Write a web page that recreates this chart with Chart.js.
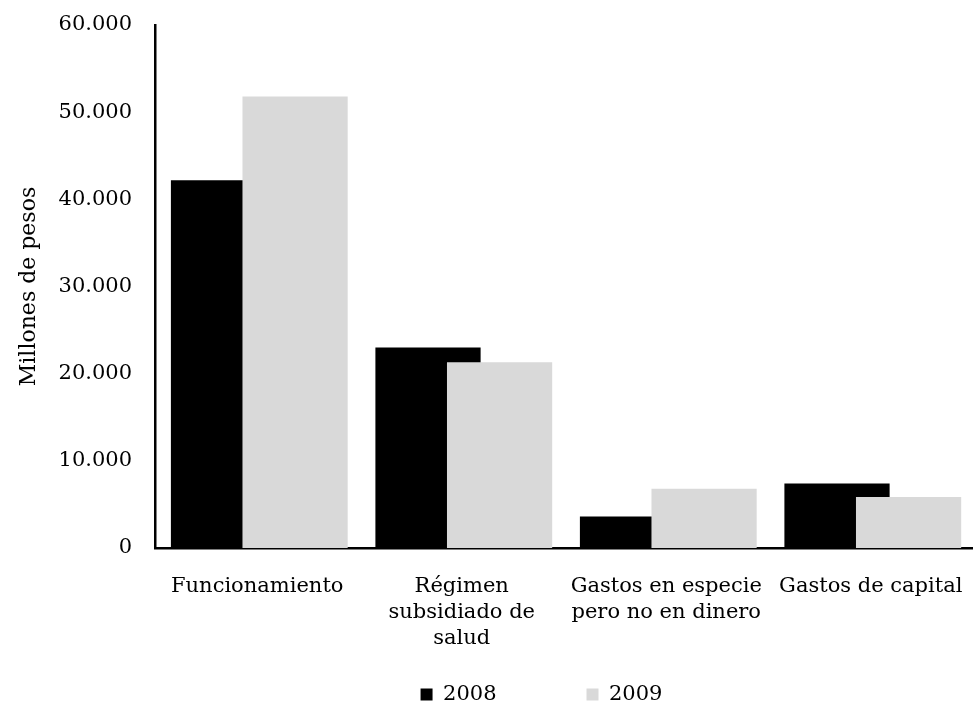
<!DOCTYPE html>
<html>
<head>
<meta charset="utf-8">
<script src="https://cdn.jsdelivr.net/npm/chart.js@4"></script>
<style>
  body { margin: 0; background: #fff; }
  #wrap { width: 973px; height: 707px; }
</style>
</head>
<body>
<div id="wrap"><canvas id="gastosChart"></canvas></div>
<script>
// categories (multi-line labels as in the original)
const categories = [
  ['Funcionamiento'],
  ['Régimen', 'subsidiado de', 'salud'],
  ['Gastos en especie', 'pero no en dinero'],
  ['Gastos de capital']
];
const years = ['2008', '2009'];
const values2008 = [42200, 23000, 3600, 7400];
const values2009 = [51800, 21300, 6800, 5850];
const yTicks = [0, 10000, 20000, 30000, 40000, 50000, 60000];

const serif = 'DejaVu Serif';

function fmt(v) {
  return String(v).replace(/\B(?=(\d{3})+(?!\d))/g, '.');
}

// bars of the two years overlap a bit, so place them on a linear axis
function toPoints(values, shift) {
  return values.map(function(v, i) { return {x: i + shift, y: v}; });
}

// put the legend where the original has it (below the labels, a bit right)
const legendPlace = {
  id: 'legendPlace',
  afterLayout(chart) {
    const lg = chart.legend;
    lg.top = chart.chartArea.bottom + 46;
    lg.bottom = chart.height;
    lg.height = lg.bottom - lg.top;
    lg.left += 55;
    lg.right += 55;
  }
};

Chart.defaults.color = '#000';
Chart.defaults.font.family = serif;

const data = {
  datasets: [{
    label: years[0],
    data: toPoints(values2008, -0.165),
    backgroundColor: '#000000',
    order: 1
  }, {
    label: years[1],
    data: toPoints(values2009, 0.185),
    backgroundColor: '#d9d9d9',
    order: 0
  }]
};

const config = {
  type: 'bar',
  data,
  plugins: [legendPlace],
  options: {
    responsive: true,
    maintainAspectRatio: false,
    animation: false,
    layout: { padding: { top: 25, right: 0, bottom: 0, left: 0 } },
    datasets: {
      bar: {
        grouped: false,
        categoryPercentage: 1,
        barPercentage: 1.47,
        borderWidth: 0
      }
    },
    scales: {
      x: {
        type: 'linear',
        min: -0.5,
        max: 3.5,
        offset: false,
        grid: { display: false, drawTicks: false },
        border: { display: true, color: '#000', width: 2.5 },
        afterBuildTicks: function(scale) {
          scale.ticks = categories.map(function(c, i) { return {value: i}; });
        },
        afterFit: function(scale) {
          scale.height = 105;
          scale.paddingLeft = 0;
          scale.paddingRight = 0;
        },
        ticks: {
          autoSkip: false,
          maxRotation: 0,
          padding: 26,
          font: { size: 21, lineHeight: 1.22 },
          callback: function(value) { return categories[value]; }
        }
      },
      y: {
        min: 0,
        max: 60000,
        grid: { display: false, drawTicks: false },
        border: { display: true, color: '#000', width: 2.5 },
        afterBuildTicks: function(scale) {
          scale.ticks = yTicks.map(function(v) { return {value: v}; });
        },
        afterFit: function(scale) {
          scale.width = 155;
          scale.paddingTop = 0;
          scale.paddingBottom = 0;
        },
        ticks: {
          padding: 23,
          font: { size: 21 },
          callback: function(value) { return fmt(value); }
        },
        title: {
          display: true,
          text: 'Millones de pesos',
          font: { size: 22 },
          padding: { top: 16, bottom: 0 }
        }
      }
    },
    plugins: {
      tooltip: { enabled: false },
      legend: {
        position: 'bottom',
        reverse: true,
        maxHeight: 54,
        labels: {
          boxWidth: 12,
          boxHeight: 12,
          padding: 90,
          font: { size: 21 }
        }
      }
    }
  }
};

new Chart(document.getElementById('gastosChart'), config);
</script>
</body>
</html>
